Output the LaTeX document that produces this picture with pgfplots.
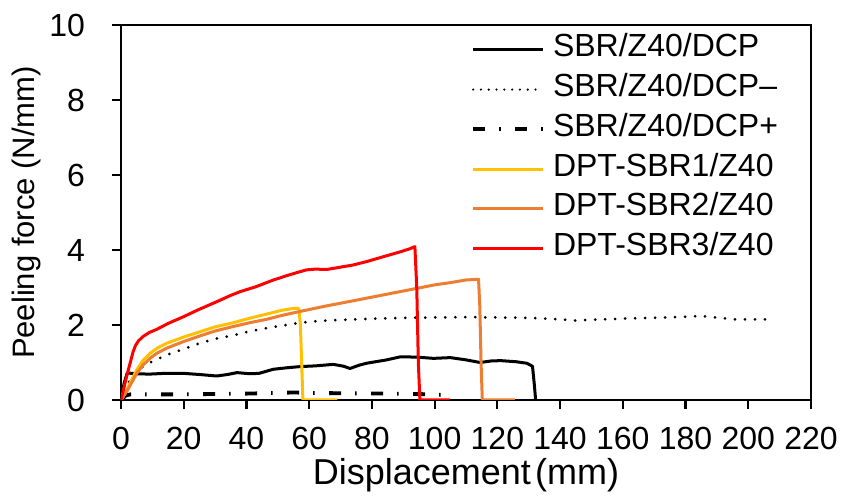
\documentclass[border=0pt]{standalone}
\usepackage{pgfplots}
\pgfplotsset{compat=1.18}
\usepackage{fontspec}
\setmainfont{Liberation Sans}
\definecolor{cyel}{HTML}{FFC000}
\definecolor{cora}{HTML}{ED7D31}
\definecolor{cred}{HTML}{FF0000}
\begin{document}
\fontsize{16}{19}\selectfont
\begin{tikzpicture}
\begin{axis}[
  name=ax,
  scale only axis,
  width=345pt, height=187.5pt,
  xmin=0, xmax=220, ymin=0, ymax=10,
  xtick={0,20,...,220}, ytick={0,2,...,10},
  axis line style={line width=1.1pt},
  tick style={line width=1.1pt, black},
  major tick length=4.5pt,
  tick align=outside,
  xtick pos=bottom, ytick pos=left,
  /pgf/number format/assume math mode=true,
  ticklabel style={font=\fontsize{16}{19}\selectfont},
  xticklabel style={yshift=-3.5pt},
  yticklabel style={xshift=-8pt},
  xlabel={Displacement\hspace{0.12em}(mm)},
  ylabel={Peeling force (N/mm)},
  x label style={at={(axis description cs:0.5,0)}, anchor=base, yshift=-42.5pt, font=\fontsize{18}{21}\selectfont},
  y label style={at={(axis description cs:0,0.5)}, anchor=base, yshift=43pt, font=\fontsize{15.5}{18}\selectfont},
  legend style={draw=none, fill=none, at={(rel axis cs:0.507,0.975)}, anchor=north west,
    inner sep=0pt, row sep=4.9pt, column sep=4pt,
    nodes={inner sep=0pt, text height=11pt, text depth=4pt},
    font=\fontsize{16}{19}\selectfont},
  legend cell align=left,
  legend image code/.code={\draw[#1] (0pt,0pt) -- (35pt,0pt);},
  every axis plot/.append style={line join=round},
]
\addplot[black, line width=1.5pt] coordinates {
(0,0) (1,0.45) (2,0.72) (5,0.70) (9,0.69) (14,0.71) (20,0.71) (25,0.68) (30.5,0.64) (34,0.68) (37,0.73) (41,0.70) (44,0.71) (48.6,0.82) (53,0.86) (57,0.89) (62,0.91) (67.7,0.95) (71,0.90) (73,0.84) (76,0.93) (78.3,0.98) (84.7,1.07) (89,1.15) (91,1.15) (95,1.14) (99.6,1.11) (105,1.13) (110,1.07) (114.5,1.00) (118,1.04) (121,1.05) (126,1.02) (129.4,0.98) (131.2,0.9) (131.8,0.4) (132.2,0)
};
\addlegendentry{SBR/Z40/DCP}
\addplot[black, line width=1.5pt, line cap=round, dash pattern=on 0pt off 5pt,
  legend image post style={line width=1.2pt, dash pattern=on 0pt off 3.9pt}] coordinates {
(0,0) (1.5,0.3) (3,0.55) (5,0.75) (7,0.89) (10,1.03) (14.5,1.2) (20,1.36) (25,1.51) (30,1.63) (36,1.73) (41,1.83) (46,1.91) (52,1.99) (57,2.06) (62,2.10) (68,2.13) (78,2.16) (90,2.19) (100,2.2) (110,2.21) (120,2.2) (130,2.19) (140,2.15) (145,2.12) (150,2.14) (160,2.17) (170,2.19) (180,2.22) (185,2.24) (190,2.2) (195,2.15) (206,2.15)
};
\addlegendentry{SBR/Z40/DCP--}
\addplot[black, line width=1.9pt, dash pattern=on 6pt off 7pt on 0.8pt off 7.2pt] coordinates {
(0,0) (1.5,0.12) (3,0.15) (20,0.15) (40,0.17) (55,0.2) (60,0.19) (70,0.18) (85,0.17) (95,0.16) (104,0.13)
};
\addlegendentry{SBR/Z40/DCP+}
\addplot[cyel, line width=1.5pt] coordinates {
(0,0) (2,0.3) (3.5,0.55) (5,0.8) (7,1.05) (9.2,1.24) (11.5,1.38) (14.5,1.51) (20,1.68) (25.2,1.82) (30,1.95) (35.8,2.06) (41,2.18) (46.4,2.29) (51.7,2.4) (55,2.44) (56.7,2.44) (57.2,2.0) (57.6,1.0) (58,0) (69,0)
};
\addlegendentry{DPT-SBR1/Z40}
\addplot[cora, line width=1.5pt] coordinates {
(0,0) (2,0.25) (3.5,0.48) (5,0.71) (7,0.93) (9.2,1.11) (11.5,1.25) (14.5,1.38) (20,1.56) (25.2,1.71) (30,1.84) (35.8,1.96) (41,2.06) (46.4,2.15) (51,2.25) (57,2.36) (65,2.5) (78,2.71) (89,2.89) (100,3.07) (105,3.13) (110,3.2) (114,3.22) (114.4,2.5) (114.8,1.0) (115.2,0) (125.6,0)
};
\addlegendentry{DPT-SBR2/Z40}
\addplot[cred, line width=1.5pt] coordinates {
(0,0) (1,0.35) (2,0.7) (2.9,0.98) (3.8,1.27) (4.6,1.45) (5.6,1.58) (7,1.69) (9,1.8) (11.3,1.88) (15,2.04) (19.9,2.22) (25,2.42) (30.5,2.62) (35,2.79) (38,2.89) (43,3.02) (48.6,3.2) (53,3.32) (57,3.42) (59.2,3.47) (62,3.49) (65.6,3.48) (69.8,3.54) (74,3.6) (78.3,3.69) (83.6,3.82) (89,3.95) (92,4.03) (93.7,4.09) (94.3,3.0) (94.8,1.0) (95.3,0) (104.9,0)
};
\addlegendentry{DPT-SBR3/Z40}
\end{axis}
\pgfresetboundingbox
\path[use as bounding box] ([xshift=-60.5pt,yshift=-48.5pt]ax.south west) rectangle ([xshift=15pt,yshift=12.5pt]ax.north east);
\end{tikzpicture}
\end{document}
